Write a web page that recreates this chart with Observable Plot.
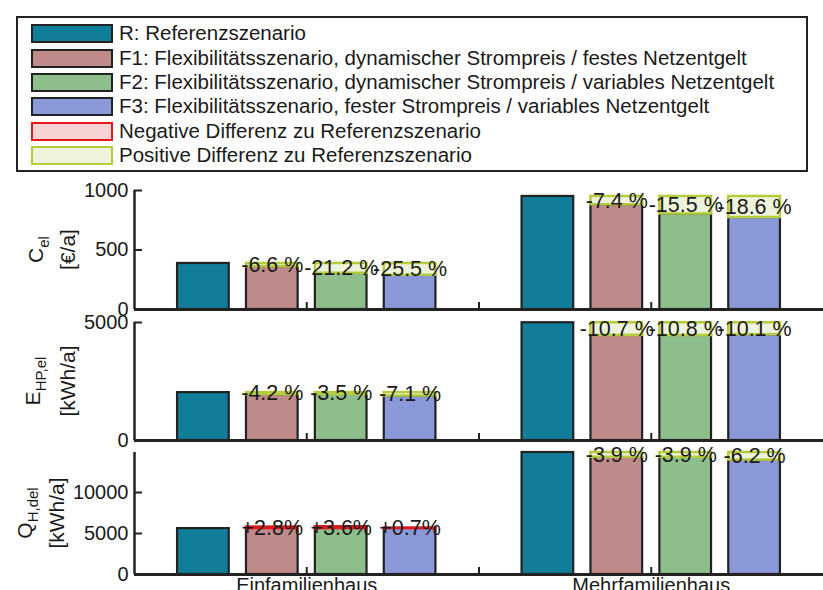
<!DOCTYPE html>
<html><head><meta charset="utf-8">
<script src="https://cdn.jsdelivr.net/npm/d3@7"></script>
<script src="https://cdn.jsdelivr.net/npm/@observablehq/plot@0.6"></script>
<style>
body{margin:0;background:#fff;font-family:"Liberation Sans",Arial,sans-serif;}
#wrap{position:relative;width:823px;height:590px;overflow:hidden;background:#fff;}
#legend{position:absolute;left:16px;top:16px;width:788px;height:152px;border:2px solid #222;background:#fff;}
.row{position:absolute;left:31px;height:22px;display:flex;align-items:center;font-size:20.5px;color:#1a1a1a;white-space:nowrap;}
.sw{width:78px;height:15px;border:2px solid #222;margin-right:6px;box-sizing:content-box;}
.panel{position:absolute;left:0;}
</style></head>
<body>
<div id="wrap"><div id="legend"></div></div>
<script>
// ---- data ----
const groups = ["Einfamilienhaus", "Mehrfamilienhaus"];
const scenarios = ["R", "F1", "F2", "F3"];
const scenarioColors = ["#117d98", "#bf8a8a", "#8dbe8b", "#8c99d8"];
const legendLabels = [
  "R: Referenzszenario",
  "F1: Flexibilitätsszenario, dynamischer Strompreis / festes Netzentgelt",
  "F2: Flexibilitätsszenario, dynamischer Strompreis / variables Netzentgelt",
  "F3: Flexibilitätsszenario, fester Strompreis / variables Netzentgelt",
  "Negative Differenz zu Referenzszenario",
  "Positive Differenz zu Referenzszenario"
];
const legendFills = ["#117d98", "#bf8a8a", "#8dbe8b", "#8c99d8", "#f8d3d4", "#eef3dc"];
const legendStrokes = ["#222", "#222", "#222", "#222", "#e3171c", "#b5cc3c"];

// C_el [€/a]
const celEFH = [387, 361, 305, 288];
const celMFH = [950, 880, 803, 773];
const celPctEFH = [-6.6, -21.2, -25.5];
const celPctMFH = [-7.4, -15.5, -18.6];
const celTicks = [0, 500, 1000];

// E_HP,el [kWh/a]
const ehpEFH = [2030, 1945, 1959, 1886];
const ehpMFH = [4990, 4456, 4451, 4486];
const ehpPctEFH = [-4.2, -3.5, -7.1];
const ehpPctMFH = [-10.7, -10.8, -10.1];
const ehpTicks = [0, 5000];

// Q_H,del [kWh/a]
const qhEFH = [5600, 5757, 5802, 5639];
const qhMFH = [14880, 14300, 14300, 13958];
const qhPctEFH = [2.8, 3.6, 0.7];
const qhPctMFH = [-3.9, -3.9, -6.2];
const qhTicks = [0, 5000, 10000];

const xTicks = [1, 1.5, 2];

// ---- legend ----
const legend = d3.select("#wrap");
const rowCenters = [33, 58, 82, 106, 131, 155];
legendLabels.forEach((lab, i) => {
  const r = legend.append("div").attr("class", "row").style("top", (rowCenters[i] - 11) + "px");
  r.append("div").attr("class", "sw").style("background", legendFills[i]).style("border-color", legendStrokes[i]);
  r.append("span").text(lab);
});

// ---- panels ----
const FONT = '"Liberation Sans", Arial, sans-serif';
function fmtPct(p) { return p < 0 ? `-${Math.abs(p).toFixed(1)} %` : `+${p.toFixed(1)}%`; }

function panel(opts) {
  const {series, pcts, domain, yTicks, top, mt, mb, h, showX, title, titleX} = opts;
  const bars = [], diffs = [], labels = [];
  series.forEach((vals, gi) => {
    vals.forEach((v, si) => {
      const c = gi + 1 + (si - 1.5) * 0.2;
      bars.push({x1: c - 0.075, x2: c + 0.075, v, color: scenarioColors[si]});
      if (si > 0) {
        const r = vals[0], p = pcts[gi][si - 1];
        diffs.push({x1: c - 0.075, x2: c + 0.075, r, v, p});
        labels.push({x: c, y: (r + v) / 2, text: fmtPct(p)});
      }
    });
  });
  const plot = Plot.plot({
    width: 823, height: h,
    marginLeft: 134, marginRight: 0, marginTop: mt, marginBottom: mb,
    style: {background: "transparent", overflow: "visible", fontSize: "20px", fontFamily: FONT, color: "#1a1a1a"},
    x: {domain: [0.5, 2.5]},
    y: {domain},
    marks: [
      Plot.rectY(bars, {x1: "x1", x2: "x2", y1: 0, y2: "v", fill: "color", stroke: "#222", strokeWidth: 2.2}),
      Plot.rectY(diffs, {x1: "x1", x2: "x2", y1: "r", y2: "v",
        fill: d => d.p < 0 ? "#eef3dc" : "#f8d3d4",
        stroke: d => d.p < 0 ? "#b5cc3c" : "#e3171c", strokeWidth: 2.5}),
      Plot.text(labels, {x: "x", y: "y", text: "text", fontSize: 21.5, fill: "#1a1a1a"}),
      Plot.ruleX([0.5], {stroke: "#222", strokeWidth: 2.5}),
      Plot.ruleY([0], {stroke: "#222", strokeWidth: 2.8}),
      Plot.axisY({ticks: yTicks, tickSize: -8, tickPadding: 14, stroke: "#222", strokeWidth: 2, fontSize: 20,
        tickFormat: d => String(d)}),
      Plot.axisX({ticks: xTicks, tickSize: -7, tickPadding: 10, stroke: "#222", strokeWidth: 2, fontSize: 20,
        tickFormat: d => showX ? (d === 1 ? groups[0] : d === 2 ? groups[1] : "") : ""})
    ]
  });
  plot.classList.add("panel");
  plot.style.top = top + "px";
  // y-axis title (two rotated lines, first with subscript)
  const cy = (mt + h - mb) / 2;
  const g = d3.select(plot).append("g").attr("fill", "#1a1a1a").attr("font-family", FONT).attr("font-size", 21);
  const t1 = g.append("text").attr("transform", `translate(${titleX[0]},${cy}) rotate(-90)`).attr("text-anchor", "middle");
  t1.append("tspan").text(title[0]);
  t1.append("tspan").attr("font-size", 15).attr("dy", 6).text(title[1]);
  g.append("text").attr("transform", `translate(${titleX[1]},${cy}) rotate(-90)`).attr("text-anchor", "middle").text(title[2]);
  document.getElementById("wrap").appendChild(plot);
}

panel({series: [celEFH, celMFH], pcts: [celPctEFH, celPctMFH], domain: [0, 1000], yTicks: celTicks,
  top: 176, mt: 14, mb: 10, h: 143, showX: false, title: ["C", "el", "[€/a]"], titleX: [43, 75]});
panel({series: [ehpEFH, ehpMFH], pcts: [ehpPctEFH, ehpPctMFH], domain: [0, 5000], yTicks: ehpTicks,
  top: 312, mt: 10, mb: 10, h: 138, showX: false, title: ["E", "HP,el", "[kWh/a]"], titleX: [40, 75]});
panel({series: [qhEFH, qhMFH], pcts: [qhPctEFH, qhPctMFH], domain: [0, 14880], yTicks: qhTicks,
  top: 442, mt: 10, mb: 16, h: 148, showX: true, title: ["Q", "H,del", "[kWh/a]"], titleX: [32, 64]});
</script>
</body></html>
